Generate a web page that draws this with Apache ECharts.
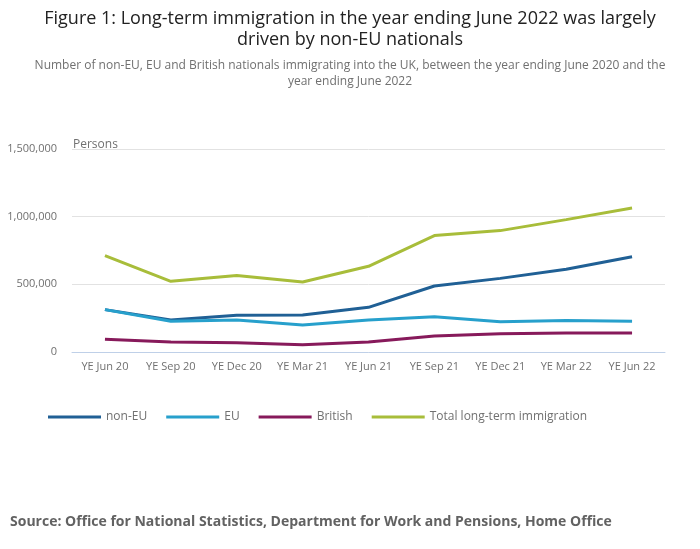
<!DOCTYPE html>
<html><head><meta charset="utf-8">
<script src="https://cdn.jsdelivr.net/npm/echarts@6/dist/echarts.min.js"></script>
<style>html,body{margin:0;padding:0;background:#fff}#c{width:700px;height:549px}</style>
</head><body><div id="c"></div>
<script>
const categories = ['YE Jun 20','YE Sep 20','YE Dec 20','YE Mar 21','YE Jun 21','YE Sep 21','YE Dec 21','YE Mar 22','YE Jun 22'];
const nonEU = [313000,236000,271000,273000,330000,488000,544000,611000,704000];
const EU = [313000,227000,236000,200000,236000,261000,224000,232000,227000];
const british = [94000,74000,69000,54000,74000,118000,135000,140000,140000];
const total = [712000,522000,566000,517000,633000,860000,897000,978000,1064000];
const yTicks = [0,500000,1000000,1500000];

const font = '"Open Sans", sans-serif';
const chart = echarts.init(document.getElementById('c'));
function mk(name, data, color){
  return {name, type:'line', data, symbol:'none', showSymbol:false, color,
    lineStyle:{width:3, color}, emphasis:{disabled:true}};
}
chart.setOption({
  animation:false,
  textStyle:{fontFamily:font},
  title:[
    {text:'Figure 1: Long-term immigration in the year ending June 2022 was largely\ndriven by non-EU nationals', left:'center', top:8, padding:0,
     textStyle:{fontFamily:font, fontSize:18, fontWeight:'normal', color:'#222', lineHeight:21}},
    {text:'Number of non-EU, EU and British nationals immigrating into the UK, between the year ending June 2020 and the\nyear ending June 2022', left:'center', top:58, padding:0,
     textStyle:{fontFamily:font, fontSize:12, fontWeight:'normal', color:'#707070', lineHeight:16}},
    {text:'Persons', left:73, top:139, padding:0,
     textStyle:{fontFamily:font, fontSize:12, fontWeight:'normal', color:'#707070'}},
    {text:'Source: Office for National Statistics, Department for Work and Pensions, Home Office', left:10, top:515, padding:0,
     textStyle:{fontFamily:font, fontSize:14, fontWeight:'bold', color:'#626262'}}
  ],
  legend:{left:48, top:411, padding:0, icon:'rect', itemWidth:53, itemHeight:3, itemGap:19,
    textStyle:{fontFamily:font, fontSize:12, color:'#707070', padding:[0,0,0,0]},
    data:['non-EU','EU','British','Total long-term immigration']},
  grid:{left:72, right:35, top:149, bottom:197},
  xAxis:{type:'category', data:categories, boundaryGap:true,
    axisLine:{lineStyle:{color:'#bfd0e8'}},
    axisTick:{alignWithLabel:true, length:6, lineStyle:{color:'#bfd0e8'}},
    axisLabel:{interval:0, fontFamily:font, fontSize:11, color:'#707070', margin:9}},
  yAxis:{type:'value', min:0, max:1500000, interval:500000,
    axisLabel:{fontFamily:font, fontSize:11, color:'#707070', margin:15,
      formatter:v=> yTicks.includes(v) ? v.toLocaleString('en-GB') : ''},
    splitLine:{lineStyle:{color:'#e2e2e2'}},
    axisLine:{show:false}, axisTick:{show:false}},
  series:[
    mk('non-EU', nonEU, '#206095'),
    mk('EU', EU, '#27a0cc'),
    mk('British', british, '#871a5b'),
    mk('Total long-term immigration', total, '#a8bd3a')
  ]
});
</script></body></html>
